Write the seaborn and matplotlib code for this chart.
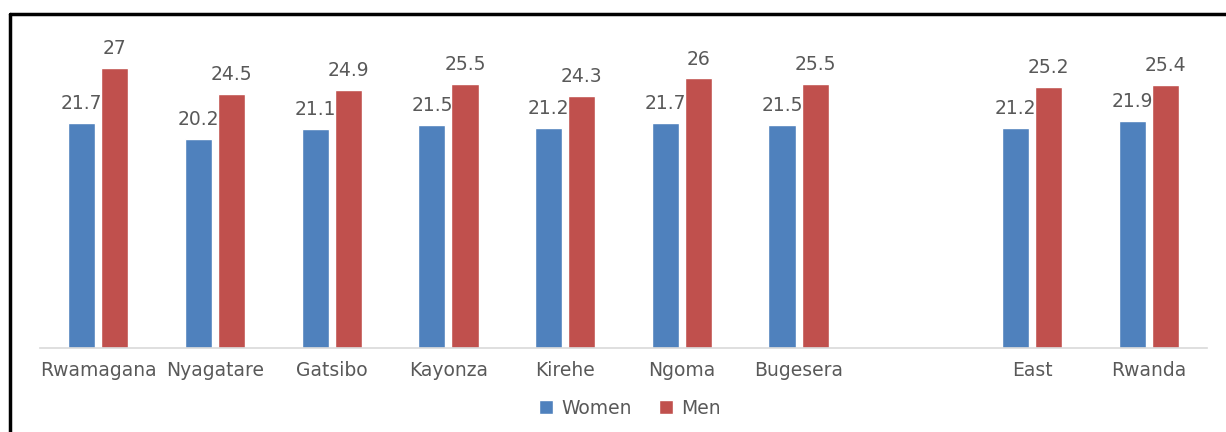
import numpy as np
import pandas as pd
import matplotlib
matplotlib.use("Agg")
import matplotlib.pyplot as plt
from matplotlib.lines import Line2D
from matplotlib.patches import Patch
import seaborn as sns

districts = ["Rwamagana", "Nyagatare", "Gatsibo", "Kayonza", "Kirehe",
             "Ngoma", "Bugesera", " ", "East", "Rwanda"]
women = [21.7, 20.2, 21.1, 21.5, 21.2, 21.7, 21.5, np.nan, 21.2, 21.9]
men = [27, 24.5, 24.9, 25.5, 24.3, 26, 25.5, np.nan, 25.2, 25.4]
series = ["Women", "Men"]
colors = {"Women": "#4F81BD", "Men": "#C0504D"}

df = pd.DataFrame({"district": districts * 2,
                   "sex": ["Women"] * len(districts) + ["Men"] * len(districts),
                   "value": women + men})

sns.set_style("white")
plt.rcParams['font.family'] = ['DejaVu Sans']

fig = plt.figure(figsize=(12.26, 4.32), dpi=100)
ax = fig.add_axes([40 / 1226, 84 / 432, 1167 / 1226, (348 - 26.5) / 432])

sns.barplot(data=df, x="district", y="value", hue="sex", order=districts,
            hue_order=series, palette=colors, width=0.566, gap=0.18,
            errorbar=None, ax=ax, legend=False, saturation=1)

ax.set_xlim(-0.5, len(districts) - 0.5)
ax.set_ylim(0, 31)
ax.set_xlabel("")
ax.set_ylabel("")
ax.set_yticks([])
for s in ["top", "right", "left"]:
    ax.spines[s].set_visible(False)
ax.spines["bottom"].set_color("#D9D9D9")
ax.spines["bottom"].set_linewidth(1.2)
ax.tick_params(axis="x", length=0, pad=9, labelsize=13.5, labelcolor="#595959")

for cont in ax.containers:
    labels = ["" if np.isnan(v) else f"{v:g}" for v in cont.datavalues]
    ax.bar_label(cont, labels=labels, padding=7, fontsize=13.5, color="#595959")

handles = [Patch(facecolor=colors[s], label=s) for s in series]
fig.legend(handles=handles, loc="center", bbox_to_anchor=(630 / 1226, 1 - 408 / 432),
           ncol=2, frameon=False, fontsize=13.5, handlelength=0.75, handleheight=0.75,
           columnspacing=1.4, handletextpad=0.45, labelcolor="#595959")

# outer frame (cut off at right and bottom)
fig.add_artist(Line2D([10 / 1226, 1.0], [1 - 14 / 432, 1 - 14 / 432],
                      transform=fig.transFigure, color="black", lw=2.5))
fig.add_artist(Line2D([10 / 1226, 10 / 1226], [0, 1 - 14 / 432],
                      transform=fig.transFigure, color="black", lw=2.5))

fig.savefig("out.png", dpi=100)
